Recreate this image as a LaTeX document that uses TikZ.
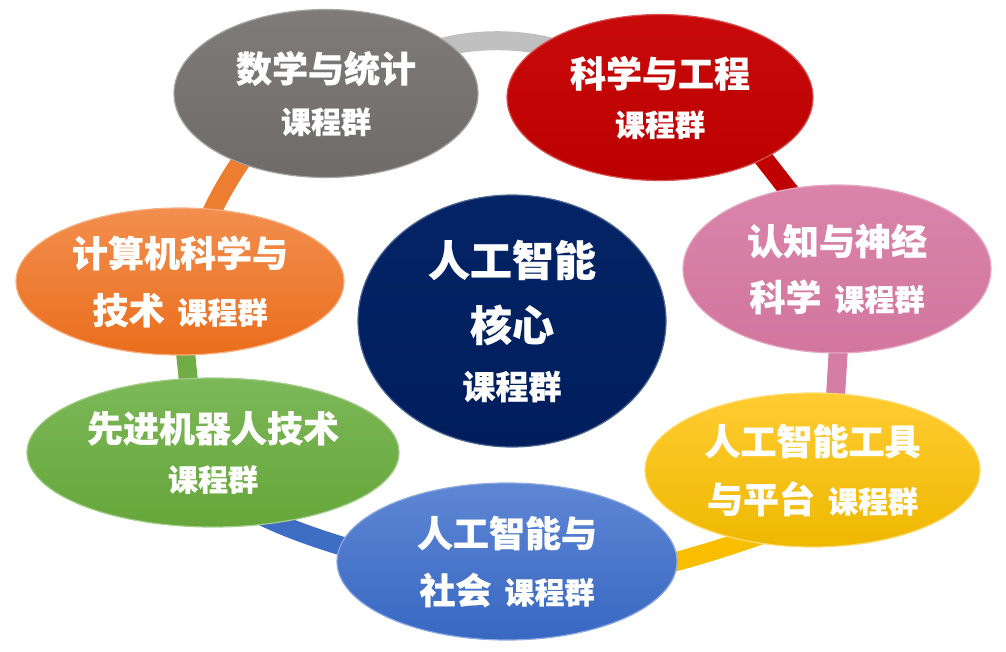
\documentclass[tikz,border=0pt]{standalone}
\usepackage{fontspec}
\newfontfamily\cjk{Noto Sans CJK SC}[BoldFeatures={FakeBold=0.5}]
\usetikzlibrary{shapes.geometric}
\pgfdeclarelayer{ringlayer}
\pgfsetlayers{ringlayer,main}
\definecolor{grayA}{RGB}{128,123,123}\definecolor{grayB}{RGB}{112,107,107}
\definecolor{redA}{RGB}{200,10,10}\definecolor{redB}{RGB}{188,0,0}
\definecolor{pinkA}{RGB}{218,132,170}\definecolor{pinkB}{RGB}{210,118,158}
\definecolor{orangeA}{RGB}{242,142,78}\definecolor{orangeB}{RGB}{234,110,28}
\definecolor{navyA}{RGB}{4,36,102}\definecolor{navyB}{RGB}{0,30,92}
\definecolor{greenA}{RGB}{124,184,88}\definecolor{greenB}{RGB}{102,166,58}
\definecolor{yellowA}{RGB}{255,204,50}\definecolor{yellowB}{RGB}{238,184,0}
\definecolor{blueA}{RGB}{94,134,212}\definecolor{blueB}{RGB}{56,104,194}
\definecolor{bandGray}{RGB}{192,192,192}
\definecolor{bandRed}{RGB}{192,0,0}
\definecolor{bandPink}{RGB}{213,125,165}
\definecolor{bandYellow}{RGB}{250,190,0}
\definecolor{bandBlue}{RGB}{62,110,196}
\definecolor{bandGreen}{RGB}{112,173,71}
\definecolor{bandOrange}{RGB}{237,125,49}
\newcommand\smalltxt[1]{{\fontsize{30}{30}\selectfont #1}}
\begin{document}
\begin{tikzpicture}[x=1pt,y=1pt,
  blob/.style n args={2}{ellipse, inner sep=0pt, outer sep=0pt, text=white, align=center,
    top color=#1, bottom color=#2, draw=#1!70!white, line width=1.2pt},
  bigfont/.style={font=\cjk\bfseries\fontsize{36}{#1}\selectfont},
  band/.style={line width=19pt}]
\useasboundingbox (0,0) rectangle (1006,-652);

% ellipses
\node[blob={grayA}{grayB}, bigfont=51, minimum width=304pt, minimum height=168pt]
  (math) at (326,-93.5) {数学与统计\\\smalltxt{课程群}};
\node[blob={redA}{redB}, bigfont=49, minimum width=306pt, minimum height=166pt]
  (sci) at (660,-97.5) {科学与工程\\\smalltxt{课程群}};
\node[blob={pinkA}{pinkB}, bigfont=56, minimum width=308pt, minimum height=168pt]
  (cog) at (837,-269) {认知与神经\\科学\hspace{13pt}\smalltxt{课程群}};
\node[blob={orangeA}{orangeB}, bigfont=57, minimum width=328pt, minimum height=147pt]
  (cs) at (180,-281.5) {计算机科学与\\技术\hspace{13pt}\smalltxt{课程群}};
\node[blob={navyA}{navyB}, font=\cjk\bfseries\fontsize{42}{58}\selectfont,
  minimum width=308pt, minimum height=252pt]
  (core) at (512,-321) {人工智能\\[7pt]核心\\{\fontsize{33}{58}\selectfont 课程群}};
\node[blob={greenA}{greenB}, bigfont=49, minimum width=372pt, minimum height=149pt]
  (rob) at (213,-452.5) {先进机器人技术\\\smalltxt{课程群}};
\node[blob={yellowA}{yellowB}, bigfont=58, minimum width=335pt, minimum height=154pt]
  (tool) at (812.5,-470) {人工智能工具\\与平台\hspace{13pt}\smalltxt{课程群}};
\node[blob={blueA}{blueB}, bigfont=57, minimum width=340pt, minimum height=157pt]
  (soc) at (507,-561.5) {人工智能与\\社会\hspace{13pt}\smalltxt{课程群}};

% ends of the ring segments, just inside the ellipses
\coordinate (mathE) at (440,-48);   \coordinate (sciW) at (560,-50);
\coordinate (sciS) at (750,-141);   \coordinate (cogN) at (796,-200);
\coordinate (cogS) at (839,-338);   \coordinate (toolN) at (835,-405);
\coordinate (toolS) at (780,-528);  \coordinate (socE) at (655,-567);
\coordinate (socW) at (362,-552);   \coordinate (robE) at (260,-515);
\coordinate (robN) at (190,-396);   \coordinate (csS) at (184,-338);
\coordinate (csN) at (205,-228);    \coordinate (mathW) at (256,-140);

% ring segments behind the ellipses
\begin{pgfonlayer}{ringlayer}
\draw[band, draw=bandGray]   (mathE) .. controls (475,-38) and (525,-38) .. (sciW);
\draw[band, draw=bandRed]    (sciS) -- (cogN);
\draw[band, draw=bandPink]   (cogS) -- (toolN);
\draw[band, draw=bandYellow] (toolS) .. controls (745,-541) and (700,-556) .. (socE);
\draw[band, draw=bandBlue]   (socW) .. controls (330,-543) and (290,-530) .. (robE);
\draw[band, draw=bandGreen]  (robN) -- (csS);
\draw[band, draw=bandOrange] (csN) .. controls (214,-205) and (228,-178) .. (mathW);
\end{pgfonlayer}
\end{tikzpicture}
\end{document}
